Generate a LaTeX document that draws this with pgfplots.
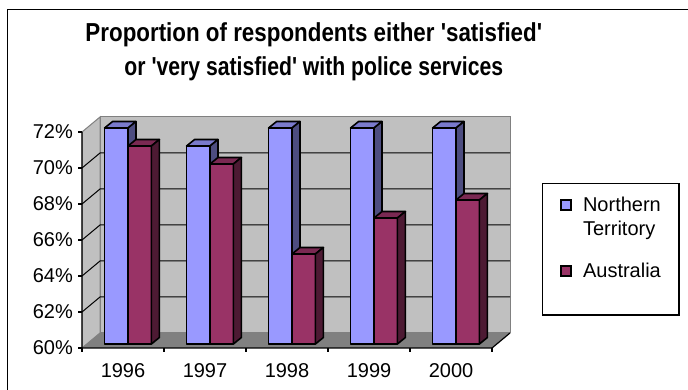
\documentclass[border=0pt]{standalone}
\usepackage{pgfplots}
\pgfplotsset{compat=1.18}
\usepackage{pgfplotstable}
\usepackage{fontspec}
\newfontfamily\arial{Liberation Sans}
\newfontfamily\titlefontA[FakeStretch=0.86]{Liberation Sans}
\newfontfamily\titlefontB[FakeStretch=0.815]{Liberation Sans}

\definecolor{ntfront}{HTML}{9999FF}
\definecolor{nttop}{HTML}{7A7ACC}
\definecolor{ntside}{HTML}{4D4D80}
\definecolor{aufront}{HTML}{993366}
\definecolor{autop}{HTML}{7A2952}
\definecolor{auside}{HTML}{4D1A33}
\definecolor{wallgray}{HTML}{C0C0C0}
\definecolor{floorgray}{HTML}{808080}
\definecolor{edgegray}{HTML}{808080}

% satisfied or very satisfied (per cent)
\pgfplotstableread{
year nt au
1996 72 71
1997 71 70
1998 72 65
1999 72 67
2000 72 68
}\satisfaction

% 3-D column drawn from its top: front face, top face, right side face
% (\barval is the column's value, the floor sits at 60%)
\newcommand\declarecolumnmark[4]{%
  \pgfdeclareplotmark{#1}{%
    \pgfmathsetmacro\barh{(\barval-60)*18}%
    \pgfsetlinewidth{1.6pt}\pgfsetroundjoin\pgfsetstrokecolor{black}%
    \pgfsetfillcolor{#2}%
    \pgfpathrectangle{\pgfpoint{-11.7pt}{-\barh pt}}{\pgfpoint{23.4pt}{\barh pt}}%
    \pgfusepath{fill,stroke}%
    \pgfsetfillcolor{#3}%
    \pgfpathmoveto{\pgfpoint{-11.7pt}{0pt}}%
    \pgfpathlineto{\pgfpoint{11.7pt}{0pt}}%
    \pgfpathlineto{\pgfpoint{19.7pt}{6.5pt}}%
    \pgfpathlineto{\pgfpoint{-3.7pt}{6.5pt}}%
    \pgfpathclose\pgfusepath{fill,stroke}%
    \pgfsetfillcolor{#4}%
    \pgfpathmoveto{\pgfpoint{11.7pt}{0pt}}%
    \pgfpathlineto{\pgfpoint{19.7pt}{6.5pt}}%
    \pgfpathlineto{\pgfpoint{19.7pt}{6.5pt-\barh pt}}%
    \pgfpathlineto{\pgfpoint{11.7pt}{-\barh pt}}%
    \pgfpathclose\pgfusepath{fill,stroke}%
  }}
\declarecolumnmark{colNT}{ntfront}{nttop}{ntside}
\declarecolumnmark{colAU}{aufront}{autop}{auside}

% points on the front edge and on the back wall of the floor
\newcommand\fr[2]{([shift={(-5pt,-4pt)}]axis cs:#1,#2)}
\newcommand\bk[2]{([shift={(13pt,11pt)}]axis cs:#1,#2)}

\begin{document}
\begin{tikzpicture}
\begin{axis}[
  at={(87pt,46pt)}, anchor=south west,
  x=82pt, y=18pt,
  xmin=-0.5, xmax=4.5, ymin=60, ymax=72,
  clip=false, set layers,
  axis line style={draw=none},
  major tick length=0pt,
  xtick={0,...,4}, xticklabels={1996,1997,1998,1999,2000},
  ytick={60,62,...,72}, yticklabel={\pgfmathprintnumber{\tick}\%},
  /pgf/number format/assume math mode=true,
  tick label style={font=\arial\fontsize{20}{24}\selectfont, inner sep=0pt},
  xticklabel style={anchor=base, xshift=-5pt, yshift=-33.3pt},
  yticklabel style={anchor=east, xshift=-14pt, yshift=-4pt},
  every axis title shift=0pt,
  title={{\titlefontA Proportion of respondents either 'satisfied'}\\
         {\titlefontB or 'very satisfied' with police services}},
  title style={at={(0.5532,1.2407)}, anchor=base, align=center, inner sep=0pt,
    font=\bfseries\fontsize{26}{35}\selectfont},
  legend style={at={(1.109,0.7468)}, anchor=north west, draw=black, line width=1.5pt,
    fill=white, inner xsep=18pt, inner ysep=13.3pt, row sep=27pt, column sep=11pt,
    font=\arial\fontsize{20}{24}\selectfont,
    cells={anchor=base west}, nodes={inner sep=0pt, text height=15pt, text depth=24pt}},
]
\begin{pgfonlayer}{axis background}
  % back wall, side wall and floor
  \filldraw[fill=wallgray, draw=edgegray, line width=1pt]
    \bk{-0.5}{60} rectangle \bk{4.5}{72};
  \filldraw[fill=wallgray, draw=edgegray, line width=1pt]
    \fr{-0.5}{60} -- \bk{-0.5}{60} -- \bk{-0.5}{72} -- \fr{-0.5}{72} -- cycle;
  \fill[floorgray] \fr{-0.5}{60} -- \fr{4.5}{60} -- \bk{4.5}{60} -- \bk{-0.5}{60} -- cycle;
  % gridlines on the walls
  \pgfplotsinvokeforeach{62,64,66,68,70}{
    \draw[black, line width=1pt] \fr{-0.5}{#1} -- \bk{-0.5}{#1} -- \bk{4.5}{#1};
  }
  % value axis and category axis on the front edge
  \draw[black, line width=1.2pt] \fr{-0.5}{72} -- \fr{-0.5}{60} -- \fr{4.5}{60} -- \bk{4.5}{60};
  \pgfplotsinvokeforeach{60,62,64,66,68,70,72}{
    \draw[black, line width=1.2pt] \fr{-0.5}{#1} -- ++(-4pt,0pt);
  }
  \pgfplotsinvokeforeach{-0.5,0.5,1.5,2.5,3.5,4.5}{
    \draw[black, line width=1.2pt] \fr{#1}{60} -- ++(0pt,-4pt);
  }
\end{pgfonlayer}

\addplot[only marks, mark=colNT,
  visualization depends on={\thisrow{nt} \as \barval},
  legend image code/.code={\filldraw[draw=black, line width=1.6pt, fill=ntfront]
    (0pt,1.5pt) rectangle (10pt,11.5pt);}]
  table[x expr=\coordindex-0.1427, y=nt] {\satisfaction};
\addlegendentry{\begin{tabular}[t]{@{}l@{}}Northern\\Territory\end{tabular}}

\addplot[only marks, mark=colAU,
  visualization depends on={\thisrow{au} \as \barval},
  legend image code/.code={\filldraw[draw=black, line width=1.6pt, fill=aufront]
    (0pt,1.5pt) rectangle (10pt,11.5pt);}]
  table[x expr=\coordindex+0.1427, y=au] {\satisfaction};
\addlegendentry{Australia}
\end{axis}
% chart area border
\draw[black, line width=1.3pt] (7.5pt,-5pt) -- (7.5pt,380.5pt) -- (700pt,380.5pt);
\pgfresetboundingbox
\useasboundingbox (0,0) rectangle (688pt,390pt);
\end{tikzpicture}
\end{document}
